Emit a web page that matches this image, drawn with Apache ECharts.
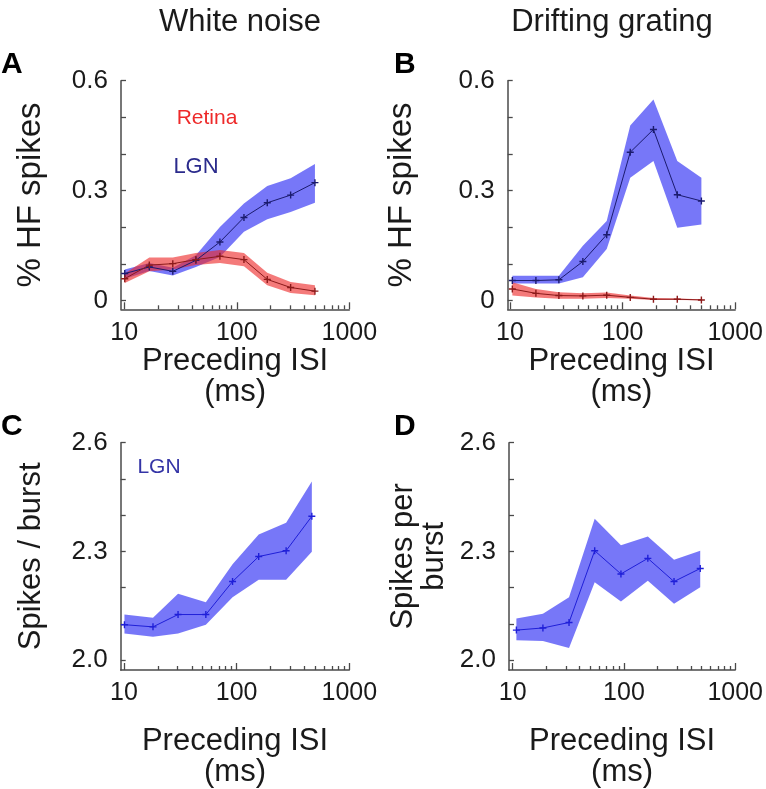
<!DOCTYPE html>
<html>
<head>
<meta charset="utf-8">
<script src="https://cdn.jsdelivr.net/npm/echarts@6/dist/echarts.min.js"></script>
<style>html,body{margin:0;padding:0;background:#fff}#c{width:766px;height:789px}</style>
</head>
<body>
<div id="c"></div>
<script>
// ---- Data ----
// Panel A: white noise, % HF spikes
const isiA = [10.1, 16.7, 27, 43.3, 70.8, 115.8, 186.6, 301, 495];
const lgnA = [0.074, 0.092, 0.080, 0.110, 0.160, 0.227, 0.267, 0.288, 0.322];
const lgnAHi = [0.085, 0.103, 0.090, 0.124, 0.201, 0.265, 0.313, 0.334, 0.373];
const lgnALo = [0.060, 0.081, 0.069, 0.092, 0.119, 0.188, 0.222, 0.242, 0.267];
const retA = [0.060, 0.097, 0.101, 0.112, 0.121, 0.112, 0.058, 0.036, 0.026];
const retAHi = [0.074, 0.118, 0.118, 0.130, 0.138, 0.130, 0.076, 0.051, 0.042];
const retALo = [0.048, 0.080, 0.085, 0.097, 0.103, 0.094, 0.042, 0.021, 0.015];
// Panel B: drifting grating, % HF spikes
const isiB = [10.5, 17, 27.2, 44.4, 72.3, 117, 188, 306, 501];
const lgnB = [0.055, 0.055, 0.057, 0.107, 0.180, 0.405, 0.467, 0.289, 0.272];
const lgnBHi = [0.068, 0.068, 0.068, 0.150, 0.217, 0.478, 0.549, 0.381, 0.335];
const lgnBLo = [0.047, 0.047, 0.047, 0.064, 0.141, 0.335, 0.381, 0.199, 0.208];
const retB = [0.032, 0.020, 0.014, 0.013, 0.015, 0.009, 0.004, 0.004, 0.002];
const retBHi = [0.050, 0.032, 0.023, 0.020, 0.022, 0.014, 0.007, 0.006, 0.004];
const retBLo = [0.014, 0.009, 0.005, 0.005, 0.007, 0.005, 0.002, 0.002, 0.001];
// Panel C: white noise, spikes / burst
const isiC = [10.1, 18.1, 30.2, 53.3, 92, 157, 275, 465];
const burstC = [2.098, 2.092, 2.126, 2.126, 2.217, 2.286, 2.302, 2.397];
const burstCHi = [2.126, 2.117, 2.183, 2.160, 2.265, 2.347, 2.379, 2.493];
const burstCLo = [2.074, 2.065, 2.074, 2.098, 2.174, 2.222, 2.222, 2.299];
// Panel D: drifting grating, spikes per burst
const isiD = [10.8, 18.7, 32.1, 54.6, 94, 164, 282, 485];
const burstD = [2.083, 2.089, 2.104, 2.302, 2.238, 2.281, 2.217, 2.253];
const burstDHi = [2.115, 2.128, 2.174, 2.390, 2.317, 2.341, 2.277, 2.302];
const burstDLo = [2.055, 2.053, 2.034, 2.215, 2.162, 2.219, 2.156, 2.201];
// Tick labels
const xTickLabels = [10, 100, 1000];
const xMinorTicks = [20, 30, 40, 50, 60, 70, 80, 90, 200, 300, 400, 500, 600, 700, 800, 900];
const pctTicks = [0, 0.1, 0.2, 0.3, 0.4, 0.5, 0.6];
const pctLabels = [0, 0.3, 0.6];
const burstTicks = [2.0, 2.1, 2.2, 2.3, 2.4, 2.5, 2.6];
const burstLabels = [2.0, 2.3, 2.6];

// ---- Styling ----
const FONT = "'Liberation Sans', Arial, Helvetica, sans-serif";
const TXT = '#1a1a1a';
const AXC = '#4a4a4a';
const BLUE_FILL = 'rgba(55,55,245,0.68)';
const RED_FILL = 'rgba(238,40,40,0.62)';
const NAVY = '#1b1b6e';
const DRED = '#8c1a1a';
const BLUE_LINE = '#1f1fd8';
const PLUS = 'path://M4,0h2v10h-2z M0,4h10v2h-10z';

const L = Math.log10;

const panels = [
  {left: 121, top: 80.7, width: 228.3, height: 228.6, xmin: 0.971, xmax: 3,
   ymin: -0.0235, ymax: 0.6, yTicks: pctTicks, yLabels: pctLabels, pct: true,
   yName: '% HF spikes', yGap: 74, yFont: 33, xGap: 30},
  {left: 507.7, top: 80.7, width: 228.9, height: 228.6, xmin: 0.98, xmax: 3,
   ymin: -0.0235, ymax: 0.6, yTicks: pctTicks, yLabels: pctLabels, pct: true,
   yName: '% HF spikes', yGap: 89, yFont: 33, xGap: 30},
  {left: 120.7, top: 442.7, width: 228.6, height: 229.3, xmin: 0.971, xmax: 3,
   ymin: 1.973, ymax: 2.6, yTicks: burstTicks, yLabels: burstLabels, pct: false,
   yName: 'Spikes / burst', yGap: 74, yFont: 31, xGap: 56},
  {left: 509, top: 442.7, width: 229.7, height: 229.3, xmin: 0.967, xmax: 3,
   ymin: 1.973, ymax: 2.6, yTicks: burstTicks, yLabels: burstLabels, pct: false,
   yName: 'Spikes per\nburst', yGap: 59, yFont: 31, xGap: 56}
];

const grid = [], xAxis = [], yAxis = [];
panels.forEach((p, i) => {
  grid.push({left: p.left, top: p.top, width: p.width, height: p.height, containLabel: false});
  xAxis.push({
    type: 'value', gridIndex: i, min: p.xmin, max: p.xmax, position: 'bottom',
    axisLine: {show: true, onZero: false, lineStyle: {color: AXC, width: 1.5}},
    axisTick: {show: true, inside: true, length: 7, customValues: xTickLabels.map(L), lineStyle: {color: AXC, width: 1.3}},
    axisLabel: {show: true, customValues: xTickLabels.map(L), formatter: v => String(Math.round(Math.pow(10, v))),
      fontSize: 25, fontFamily: FONT, color: TXT, margin: 11},
    splitLine: {show: false},
    name: 'Preceding ISI\n(ms)', nameLocation: 'middle', nameGap: p.xGap,
    nameTextStyle: {fontSize: 31, lineHeight: 31, fontFamily: FONT, color: TXT}
  });
  xAxis.push({
    type: 'value', gridIndex: i, min: p.xmin, max: p.xmax, position: 'bottom',
    axisLine: {show: false, onZero: false},
    axisTick: {show: true, inside: true, length: 4, customValues: xMinorTicks.map(L), lineStyle: {color: AXC, width: 1.3}},
    axisLabel: {show: false}, splitLine: {show: false}
  });
  yAxis.push({
    type: 'value', gridIndex: i, min: p.ymin, max: p.ymax,
    axisLine: {show: true, onZero: false, lineStyle: {color: AXC, width: 1.5}},
    axisTick: {show: true, inside: true, length: 5, customValues: p.yTicks, lineStyle: {color: AXC, width: 1.3}},
    axisLabel: {show: true, customValues: p.yLabels,
      formatter: v => p.pct ? (Math.abs(v) < 1e-9 ? '0' : v.toFixed(1)) : v.toFixed(1),
      fontSize: 26, fontFamily: FONT, color: TXT, margin: 13},
    splitLine: {show: false},
    name: p.yName, nameLocation: 'middle', nameRotate: 90, nameGap: p.yGap,
    nameTextStyle: {fontSize: p.yFont, lineHeight: p.yFont, fontFamily: FONT, color: TXT}
  });
});

function band(panel, xs, lo, hi, fill) {
  const rows = xs.map((x, k) => [L(x), lo[k], hi[k]]);
  return {
    type: 'custom', xAxisIndex: panel * 2, yAxisIndex: panel, silent: true, z: 1,
    data: rows, encode: {x: 0, y: [1, 2]},
    renderItem: function (params, api) {
      if (params.dataIndex !== 0) return null;
      const pts = [];
      rows.forEach(r => pts.push(api.coord([r[0], r[2]])));
      for (let k = rows.length - 1; k >= 0; k--) pts.push(api.coord([rows[k][0], rows[k][1]]));
      return {type: 'polygon', shape: {points: pts}, style: {fill: fill, stroke: null}};
    }
  };
}
function line(panel, xs, ys, color, z) {
  return {
    type: 'line', xAxisIndex: panel * 2, yAxisIndex: panel, z: z || 3,
    data: xs.map((x, k) => [L(x), ys[k]]),
    symbol: PLUS, symbolSize: 7, showSymbol: true,
    lineStyle: {color: color, width: 1}, itemStyle: {color: color},
    silent: true
  };
}

const series = [
  band(0, isiA, lgnALo, lgnAHi, BLUE_FILL), line(0, isiA, lgnA, NAVY, 2),
  band(0, isiA, retALo, retAHi, RED_FILL), line(0, isiA, retA, DRED, 4),
  band(1, isiB, lgnBLo, lgnBHi, BLUE_FILL), line(1, isiB, lgnB, NAVY, 2),
  band(1, isiB, retBLo, retBHi, RED_FILL), line(1, isiB, retB, DRED, 4),
  band(2, isiC, burstCLo, burstCHi, BLUE_FILL), line(2, isiC, burstC, BLUE_LINE, 3),
  band(3, isiD, burstDLo, burstDHi, BLUE_FILL), line(3, isiD, burstD, BLUE_LINE, 3)
];

const txt = (x, y, text, size, color, weight, align) => ({
  type: 'text', x: x, y: y, silent: true,
  style: {text: text, fontSize: size, fontFamily: FONT, fill: color, fontWeight: weight || 'normal',
    align: align || 'center', verticalAlign: 'middle'}
});

const chart = echarts.init(document.getElementById('c'), null, {renderer: 'canvas'});
chart.setOption({
  animation: false,
  backgroundColor: '#fff',
  grid: grid, xAxis: xAxis, yAxis: yAxis, series: series,
  graphic: [
    txt(240, 22, 'White noise', 31, TXT),
    txt(612, 22, 'Drifting grating', 31, TXT),
    txt(1, 65, 'A', 30, '#000', 'bold', 'left'),
    txt(394, 65, 'B', 30, '#000', 'bold', 'left'),
    txt(1, 427, 'C', 30, '#000', 'bold', 'left'),
    txt(394, 427, 'D', 30, '#000', 'bold', 'left'),
    txt(207, 118, 'Retina', 21, '#ee2a2a'),
    txt(196, 167, 'LGN', 22, '#2b2b8c'),
    txt(159, 467, 'LGN', 21, '#3434a6')
  ]
});
</script>
</body>
</html>
